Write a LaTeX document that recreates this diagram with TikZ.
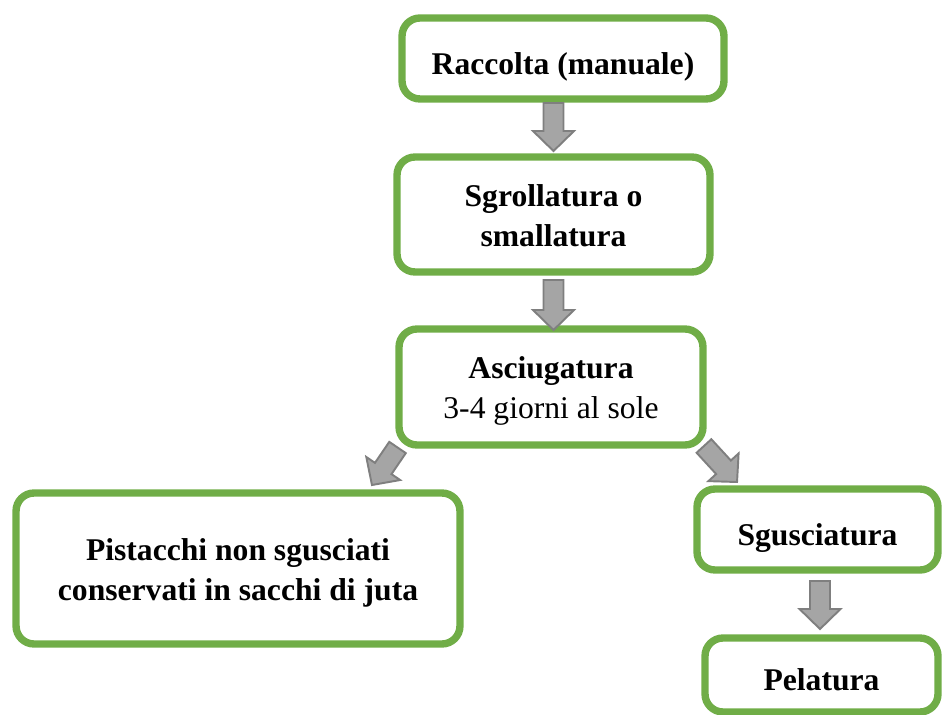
\documentclass[tikz,border=0pt]{standalone}
\usepackage{fontspec}
\setmainfont{Liberation Serif}
\usetikzlibrary{calc}

\definecolor{boxgreen}{HTML}{70AD47}
\definecolor{arrowfill}{HTML}{A5A5A5}
\definecolor{arrowline}{HTML}{7F7F7F}

\newcommand{\arrshaft}{0.2cm}
\newcommand{\arrhead}{0.41cm}
\newcommand{\arrtip}{0.4cm}
% block arrow from #1 to #2
\newcommand{\blockarrow}[2]{%
	\coordinate (h) at ($(#2)!\arrtip!(#1)$);
	\draw[fill=arrowfill, draw=arrowline, line width=1.1pt, line join=miter]
		($(#1)!\arrshaft!90:(#2)$) -- ($(h)!\arrshaft!90:(#2)$) -- ($(h)!\arrhead!90:(#2)$) -- (#2)
		-- ($(h)!\arrhead!-90:(#2)$) -- ($(h)!\arrshaft!-90:(#2)$) -- ($(#1)!\arrshaft!-90:(#2)$) -- cycle;
}

\begin{document}
\begin{tikzpicture}[x=0.02cm, y=-0.02cm,
	box/.style={draw=boxgreen, line width=4.2pt, rounded corners=0.36cm, outer sep=0pt, align=center, text depth=4pt, font=\bfseries\fontsize{18}{22.7}\selectfont},
	oneline/.style={box, text height=22pt},
	twolines/.style={box, text height=40pt}]
				\useasboundingbox (0,0) rectangle (942,715);
				\clip (0,0) rectangle (942,715);
				
				\node[oneline, minimum width=6.44cm, minimum height=1.62cm] (1) at (563,58.5) {Raccolta (manuale)};
				\node[twolines, minimum width=6.26cm, minimum height=2.3cm] (2) at (553.5,214.5) {Sgrollatura o\\smallatura};
				\node[twolines, minimum width=6.08cm, minimum height=2.32cm] (3) at (551,387) {Asciugatura\\\mdseries 3-4 giorni al sole};
				\node[twolines, minimum width=8.88cm, minimum height=3.02cm] (4) at (238,568.5) {Pistacchi non sgusciati\\conservati in sacchi di juta};
				\node[oneline, minimum width=4.82cm, minimum height=1.62cm] (5) at (817.5,529.5) {Sgusciatura};
				\node[oneline, minimum width=4.66cm, minimum height=1.48cm] (6) at (821.5,675) {Pelatura};
				
				\coordinate (1b) at ($(1.south -| 2.north)+(0,4)$);
				\coordinate (2t) at ($(2.north)+(0,-6)$);
				\coordinate (2b) at ($(2.south)+(0,8)$);
				\coordinate (3t) at ($(3.north -| 2.south)+(0,1)$);
				\coordinate (3l) at ($(3.south west)+(-1.5,2.5)$);
				\coordinate (4t) at ($(4.north east)+(-88,-8)$);
				\coordinate (3r) at ($(3.south east)+(1,1)$);
				\coordinate (5t) at ($(5.north west)+(40,-7)$);
				\coordinate (5b) at ($(5.south)+(2.5,11)$);
				\coordinate (6t) at ($(6.north)+(-1.5,-9)$);
				
				\blockarrow{1b}{2t}
				\blockarrow{2b}{3t}
				\blockarrow{3l}{4t}
				\blockarrow{3r}{5t}
				\blockarrow{5b}{6t}
			\end{tikzpicture}
\end{document}
